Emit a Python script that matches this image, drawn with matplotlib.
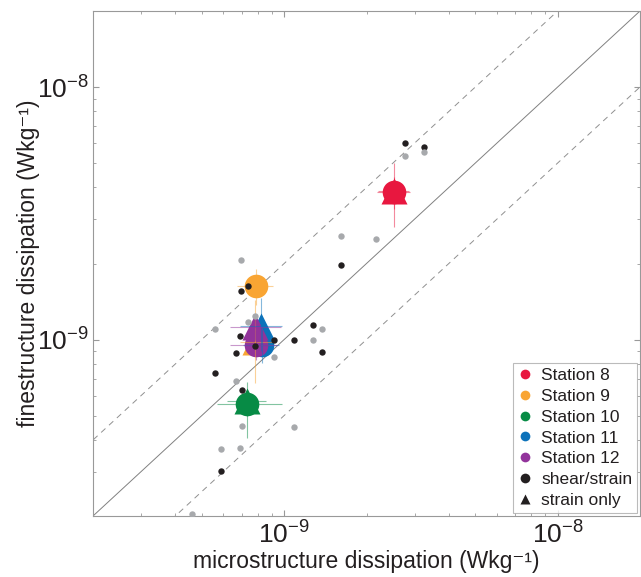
import matplotlib
matplotlib.use("Agg")
import matplotlib.pyplot as plt
from matplotlib.lines import Line2D
import numpy as np

plt.rcParams['font.family'] = ['Liberation Sans', 'DejaVu Sans']
plt.rcParams['mathtext.fontset'] = 'custom'
plt.rcParams['mathtext.rm'] = 'Liberation Sans'
plt.rcParams['mathtext.it'] = 'Liberation Sans:italic'

# ---- data ----
stations = ['Station 8', 'Station 9', 'Station 10', 'Station 11', 'Station 12']
colors = ['#E8173F', '#F9A533', '#078B45', '#0C72BA', '#92339B']

# shear/strain station means (circles) and ranges
circ_x = [2.52e-9, 7.89e-10, 7.30e-10, 8.30e-10, 7.89e-10]
circ_y = [3.84e-9, 1.63e-9, 5.55e-10, 9.50e-10, 9.50e-10]
circ_xlo = [2.18e-9, 6.72e-10, 5.68e-10, 7.10e-10, 6.34e-10]
circ_xhi = [2.88e-9, 9.10e-10, 9.82e-10, 9.60e-10, 9.40e-10]
circ_ylo = [2.79e-9, 1.37e-9, 4.07e-10, 8.10e-10, 8.30e-10]
circ_yhi = [4.99e-9, 1.91e-9, 6.78e-10, 1.10e-9, 1.08e-9]

# strain-only station means (triangles) and ranges
tri_x = [2.52e-9, 7.80e-10, 7.30e-10, 8.23e-10, 7.82e-10]
tri_y = [3.87e-9, 9.76e-10, 5.72e-10, 1.13e-9, 1.12e-9]
tri_xlo = [2.20e-9, 6.90e-10, 6.20e-10, 6.89e-10, 6.34e-10]
tri_xhi = [2.85e-9, 9.00e-10, 8.60e-10, 9.82e-10, 9.71e-10]
tri_ylo = [3.30e-9, 6.72e-10, 5.00e-10, 9.00e-10, 1.00e-9]
tri_yhi = [4.40e-9, 1.43e-9, 6.30e-10, 1.46e-9, 1.25e-9]

# individual estimates: shear/strain (black)
ss_x = [2.76e-9, 3.25e-9, 1.61e-9, 1.27e-9, 1.38e-9, 9.16e-10, 1.09e-9, 6.95e-10,
        7.39e-10, 6.89e-10, 7.82e-10, 6.67e-10, 5.59e-10, 7.01e-10, 5.89e-10]
ss_y = [6.02e-9, 5.81e-9, 1.98e-9, 1.14e-9, 8.91e-10, 9.94e-10, 9.94e-10, 1.55e-9,
        1.63e-9, 1.03e-9, 9.41e-10, 8.83e-10, 7.38e-10, 6.32e-10, 3.01e-10]

# individual estimates: strain only (gray)
so_x = [2.76e-9, 3.25e-9, 1.61e-9, 2.17e-9, 1.38e-9, 1.27e-9, 9.16e-10, 1.09e-9,
        6.95e-10, 7.84e-10, 7.39e-10, 5.59e-10, 6.67e-10, 7.01e-10, 5.89e-10,
        6.89e-10, 4.59e-10]
so_y = [5.33e-9, 5.51e-9, 2.57e-9, 2.50e-9, 1.10e-9, 9.92e-10, 8.49e-10, 4.50e-10,
        2.07e-9, 1.24e-9, 1.17e-9, 1.10e-9, 6.87e-10, 4.55e-10, 3.67e-10,
        3.72e-10, 2.04e-10]

xlim = (2e-10, 2e-8)
ylim = (2e-10, 2e-8)

fig = plt.figure(figsize=(6.41, 5.77), dpi=100)
ax = fig.add_axes([93/641, 61/577, 547/641, 505/577])
ax.set_xscale('log')
ax.set_yscale('log')
ax.set_xlim(*xlim)
ax.set_ylim(*ylim)

# reference lines
ref = np.array([1e-11, 1e-7])
ax.plot(ref, ref, color='#808080', lw=0.7, zorder=1)
ax.plot(ref, ref * 2, color='#909090', lw=0.7, ls=(0, (6, 5)), zorder=1)
ax.plot(ref, ref / 2, color='#909090', lw=0.7, ls=(0, (6, 5)), zorder=1)

# station means
for i in range(len(stations)):
    ax.plot(tri_x[i], tri_y[i], marker='^', ms=19, color=colors[i], mec='none', zorder=2 + i * 0.1)
    ax.plot(circ_x[i], circ_y[i], marker='o', ms=17, color=colors[i], mec='none', zorder=2.05 + i * 0.1)

for i in range(len(stations)):
    ax.errorbar([circ_x[i]], [circ_y[i]],
                xerr=[[circ_x[i] - circ_xlo[i]], [circ_xhi[i] - circ_x[i]]],
                yerr=[[circ_y[i] - circ_ylo[i]], [circ_yhi[i] - circ_y[i]]],
                fmt='none', ecolor=colors[i], elinewidth=0.8, alpha=0.5, capsize=0, zorder=3)
    ax.errorbar([tri_x[i]], [tri_y[i]],
                xerr=[[tri_x[i] - tri_xlo[i]], [tri_xhi[i] - tri_x[i]]],
                yerr=[[tri_y[i] - tri_ylo[i]], [tri_yhi[i] - tri_y[i]]],
                fmt='none', ecolor=colors[i], elinewidth=0.8, alpha=0.5, capsize=0, zorder=3)

# individual estimates
ax.plot(ss_x, ss_y, 'o', ms=4.6, color='#231F20', mec='none', zorder=4)
ax.plot(so_x, so_y, 'o', ms=4.6, color='#A7A9AC', mec='none', zorder=4.1)

# axes styling
for s in ax.spines.values():
    s.set_color('#999999')
    s.set_linewidth(0.8)
ax.tick_params(which='both', direction='in', top=True, right=True, color='#999999',
               labelsize=19)
ax.tick_params(axis='x', which='major', pad=4)
ax.tick_params(axis='y', which='major', pad=3)
ax.tick_params(which='major', length=4.5, width=0.8)
ax.tick_params(which='minor', length=2.2, width=0.6)
ax.set_xticks([1e-9, 1e-8])
ax.set_xticklabels([r'$10^{-9}$', r'$10^{-8}$'])
ax.set_yticks([1e-9, 1e-8])
ax.set_yticklabels([r'$10^{-9}$', r'$10^{-8}$'])
for lab in ax.get_xticklabels() + ax.get_yticklabels():
    lab.set_color('#231F20')

ax.set_xlabel('microstructure dissipation (Wkg\u207b\u00b9)', fontsize=16.5,
              color='#231F20')
ax.set_ylabel('finestructure dissipation (Wkg\u207b\u00b9)', fontsize=16.5,
              color='#231F20')
ax.xaxis.set_label_coords(0.5, -0.068)
ax.yaxis.set_label_coords(-0.097, 0.5)

# legend
handles = [Line2D([], [], marker='o', ls='none', ms=7, color=c, mec='none') for c in colors]
handles.append(Line2D([], [], marker='o', ls='none', ms=7, color='#231F20', mec='none'))
handles.append(Line2D([], [], marker='^', ls='none', ms=7, color='#231F20', mec='none'))
labels = stations + ['shear/strain', 'strain only']
leg = ax.legend(handles, labels, loc='lower right', fontsize=12.5, frameon=True,
                fancybox=False, borderaxespad=0.2, handletextpad=0.45,
                labelspacing=0.33, borderpad=0.25, handlelength=0.9)
leg.get_frame().set_edgecolor('#AAAAAA')
leg.get_frame().set_linewidth(0.8)
for t in leg.get_texts():
    t.set_color('#231F20')

fig.savefig('out.png', dpi=100)
